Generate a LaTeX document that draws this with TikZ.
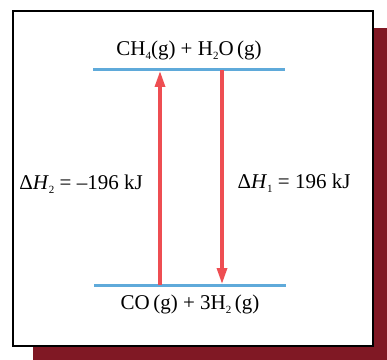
\documentclass[tikz,border=0pt]{standalone}
\usepackage{fontspec}
\setmainfont{Liberation Serif}
\usepackage{xcolor}
\usepackage{tikz}
\usetikzlibrary{arrows.meta, positioning}

\definecolor{levelblue}{RGB}{95,170,218}
\definecolor{arrowred}{RGB}{238,78,82}
\definecolor{shadowred}{RGB}{128,24,36}

\newcommand{\lowidx}[1]{\raisebox{-0.45ex}{\fontsize{11}{11}\selectfont #1}}

\begin{document}
\begin{tikzpicture}[
    x=1pt, y=1pt,
    level/.style={fill=levelblue, draw=none, inner sep=0pt,
                  minimum width=192pt, minimum height=3pt},
    lbl/.style={inner sep=0pt, font=\fontsize{21}{23}\selectfont},
    arrow/.style={-{Triangle[length=16pt, width=10pt]}, line width=3.2pt,
                  arrowred, shorten >=1pt}
    ]
    \useasboundingbox (0,0) rectangle (387,359);
    % shadow and frame
    \fill[shadowred] (33,-20) rectangle (410,331);
    \draw[fill=white, line width=2pt] (13,13) rectangle (373,348);

    % energy levels
    \node[level] (upper) at (189,289) {};
    \node[level] (lower) at (190,74) {};
    \node[lbl, above=8pt of upper] (reactants)
        {CH\lowidx{4}(g) + H\lowidx{2}O\,(g)};
    \node[lbl, below=8pt of lower] (products)
        {CO\,(g) + 3H\lowidx{2}\,(g)};

    \coordinate (upfoot) at (160,74);
    \coordinate (uphead) at (160,289);
    \coordinate (downfoot) at (222,289);
    \coordinate (downhead) at (222,74);
    \draw[arrow] (upfoot) -- (uphead);
    \draw[arrow] (downfoot) -- (downhead);

    \node[lbl] (dhback) at (81,175)
        {Δ\textit{H}\lowidx{2} = –196 kJ};
    \node[lbl] (dhfwd) at (294,176)
        {Δ\textit{H}\lowidx{1} = 196 kJ};
  \end{tikzpicture}
\end{document}
